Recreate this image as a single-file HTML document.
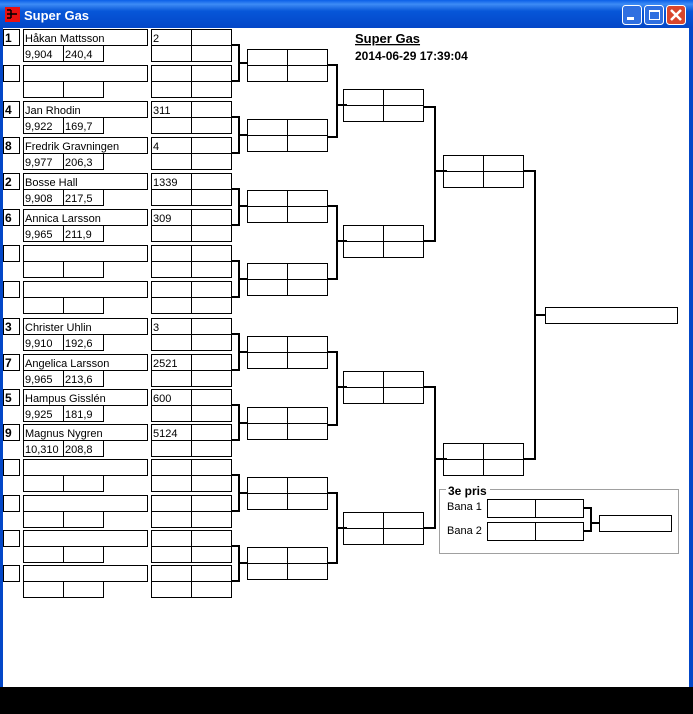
<!DOCTYPE html>
<html><head><meta charset="utf-8"><style>
html,body{margin:0;padding:0;width:693px;height:714px;overflow:hidden;background:#000}
svg{display:block}
text{font-family:"Liberation Sans",sans-serif;font-size:11px;fill:#000}
</style></head><body>
<svg width="693" height="714" viewBox="0 0 693 714" xmlns="http://www.w3.org/2000/svg">
<defs>
<linearGradient id="tb" x1="0" y1="0" x2="0" y2="1">
<stop offset="0" stop-color="#0a5fe8"/><stop offset="0.15" stop-color="#3d8bf5"/><stop offset="0.4" stop-color="#0756d8"/><stop offset="1" stop-color="#0347c8"/></linearGradient>
<g id="slot" fill="#fff" stroke="#000" stroke-width="1">
<rect x="3.5" y="0.5" width="16" height="16"/>
<rect x="23.5" y="0.5" width="124" height="16"/>
<rect x="23.5" y="16.5" width="40" height="16"/><rect x="63.5" y="16.5" width="40" height="16"/>
<rect x="151.5" y="0.5" width="80" height="32"/>
<path d="M191.5 0.5V32.5M151.5 16.5H231.5"/>
</g>
<g id="b2" fill="#fff" stroke="#000" stroke-width="1">
<rect x="0.5" y="0.5" width="80" height="32"/><path d="M40.5 0.5V32.5M0.5 16.5H80.5"/>
</g>
</defs>
<rect x="0" y="0" width="693" height="714" fill="#0347c8"/>
<rect x="0" y="0" width="693" height="28" fill="url(#tb)"/>
<rect x="3" y="28" width="686" height="659" fill="#fff"/>
<rect x="0" y="687" width="693" height="27" fill="#000"/>
<rect x="5" y="7" width="15" height="15" fill="#e81010"/>
<path d="M7 10h4M7 14h4M7 18h4M11 10v8M11 14h6" stroke="#000" stroke-width="1.5" fill="none"/>
<text x="24" y="20" style="font-size:13px;font-weight:bold;fill:#fff">Super Gas</text>
<rect x="622.5" y="5.5" width="19" height="19" rx="3" fill="#2f6fe0" stroke="#fff"/>
<rect x="627" y="17" width="7" height="3" fill="#fff"/>
<rect x="644.5" y="5.5" width="19" height="19" rx="3" fill="#2f6fe0" stroke="#fff"/>
<rect x="649.5" y="10.5" width="10" height="9" fill="none" stroke="#fff" stroke-width="1"/><rect x="649" y="10" width="11" height="2" fill="#fff"/>
<rect x="666.5" y="5.5" width="19" height="19" rx="3" fill="#d9462c" stroke="#fff"/>
<path d="M671 10l10 10M681 10l-10 10" stroke="#fff" stroke-width="2.5"/>

<text x="355" y="43" style="font-size:13px;font-weight:bold;text-decoration:underline">Super Gas</text>
<text x="355" y="60" style="font-weight:bold;font-size:12px">2014-06-29 17:39:04</text>

<use href="#slot" y="29"/><use href="#slot" y="65"/><use href="#slot" y="101"/><use href="#slot" y="137"/>
<use href="#slot" y="173"/><use href="#slot" y="209"/><use href="#slot" y="245"/><use href="#slot" y="281"/>
<use href="#slot" y="318"/><use href="#slot" y="354"/><use href="#slot" y="389"/><use href="#slot" y="424"/>
<use href="#slot" y="459"/><use href="#slot" y="495"/><use href="#slot" y="530"/><use href="#slot" y="565"/>

<g><text x="5" y="42" style="font-weight:bold;font-size:12px">1</text><text x="5" y="114" style="font-weight:bold;font-size:12px">4</text><text x="5" y="150" style="font-weight:bold;font-size:12px">8</text><text x="5" y="186" style="font-weight:bold;font-size:12px">2</text><text x="5" y="222" style="font-weight:bold;font-size:12px">6</text><text x="5" y="331" style="font-weight:bold;font-size:12px">3</text><text x="5" y="367" style="font-weight:bold;font-size:12px">7</text><text x="5" y="402" style="font-weight:bold;font-size:12px">5</text><text x="5" y="437" style="font-weight:bold;font-size:12px">9</text></g>

<text x="25" y="42">Håkan Mattsson</text><text x="25" y="58">9,904</text><text x="65" y="58">240,4</text><text x="153" y="42">2</text>
<text x="25" y="114">Jan Rhodin</text><text x="25" y="130">9,922</text><text x="65" y="130">169,7</text><text x="153" y="114">311</text>
<text x="25" y="150">Fredrik Gravningen</text><text x="25" y="166">9,977</text><text x="65" y="166">206,3</text><text x="153" y="150">4</text>
<text x="25" y="186">Bosse Hall</text><text x="25" y="202">9,908</text><text x="65" y="202">217,5</text><text x="153" y="186">1339</text>
<text x="25" y="222">Annica Larsson</text><text x="25" y="238">9,965</text><text x="65" y="238">211,9</text><text x="153" y="222">309</text>
<text x="25" y="331">Christer Uhlin</text><text x="25" y="347">9,910</text><text x="65" y="347">192,6</text><text x="153" y="331">3</text>
<text x="25" y="367">Angelica Larsson</text><text x="25" y="383">9,965</text><text x="65" y="383">213,6</text><text x="153" y="367">2521</text>
<text x="25" y="402">Hampus Gisslén</text><text x="25" y="418">9,925</text><text x="65" y="418">181,9</text><text x="153" y="402">600</text>
<text x="25" y="437">Magnus Nygren</text><text x="25" y="453">10,310</text><text x="65" y="453">208,8</text><text x="153" y="437">5124</text>

<use href="#b2" x="247" y="49"/><use href="#b2" x="247" y="119"/><use href="#b2" x="247" y="190"/><use href="#b2" x="247" y="263"/>
<use href="#b2" x="247" y="336"/><use href="#b2" x="247" y="407"/><use href="#b2" x="247" y="477"/><use href="#b2" x="247" y="547"/>
<use href="#b2" x="343" y="89"/><use href="#b2" x="343" y="225"/><use href="#b2" x="343" y="371"/><use href="#b2" x="343" y="512"/>
<use href="#b2" x="443" y="155"/><use href="#b2" x="443" y="443"/>
<rect x="545.5" y="307.5" width="132" height="16" fill="#fff" stroke="#000"/>

<g fill="none" stroke="#000" stroke-width="2">
<path d="M232 45H239V81H232M239 63H247"/>
<path d="M232 117H239V153H232M239 135H247"/>
<path d="M232 189H239V225H232M239 206H247"/>
<path d="M232 261H239V297H232M239 279H247"/>
<path d="M232 334H239V370H232M239 352H247"/>
<path d="M232 405H239V440H232M239 423H247"/>
<path d="M232 475H239V511H232M239 493H247"/>
<path d="M232 546H239V581H232M239 563H247"/>
<path d="M328 65H337V137H328M337 105H347"/>
<path d="M328 206H337V279H328M337 241H347"/>
<path d="M328 352H337V425H328M337 387H347"/>
<path d="M328 493H337V563H328M337 528H347"/>
<path d="M424 107H435V241H424M435 171H447"/>
<path d="M424 387H435V528H424M435 459H447"/>
<path d="M524 171H535V459H524M535 315H545"/>
<path d="M584 508H591V531H584M591 523H599"/>
</g>

<rect x="439.5" y="489.5" width="239" height="64" fill="none" stroke="#a0a0a0"/>
<rect x="446" y="484" width="44" height="12" fill="#fff"/>
<text x="448" y="495" style="font-weight:bold;font-size:12px">3e pris</text>
<text x="447" y="510">Bana 1</text><text x="447" y="534">Bana 2</text>
<rect x="487.5" y="499.5" width="96" height="18" fill="#fff" stroke="#000"/><path d="M535.5 499.5V517.5" stroke="#000"/>
<rect x="487.5" y="522.5" width="96" height="18" fill="#fff" stroke="#000"/><path d="M535.5 522.5V540.5" stroke="#000"/>
<rect x="599.5" y="515.5" width="72" height="16" fill="#fff" stroke="#000"/>
</svg>
</body></html>
